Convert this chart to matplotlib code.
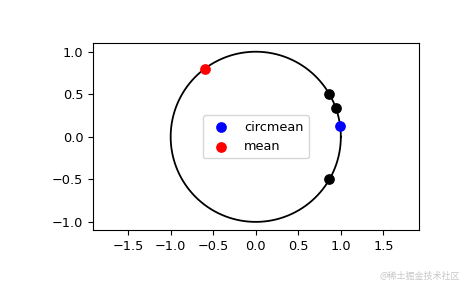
import numpy as np
import matplotlib.pyplot as plt

# sample angles in degrees
angles_deg = [20, 30, 330]
circmean_deg = 7.5
mean_deg = 126.67

angles = np.deg2rad(angles_deg)
t = np.linspace(0, 2 * np.pi, 400)

fig = plt.figure(figsize=(4.65, 2.88), dpi=100)
ax = fig.add_axes([0.2, 0.2, 0.7, 0.65])
ax.plot(np.cos(t), np.sin(t), color='k', lw=1.3)
ax.scatter(np.cos(angles), np.sin(angles), c='k', s=45, zorder=3)
ax.scatter(np.cos(np.deg2rad(circmean_deg)), np.sin(np.deg2rad(circmean_deg)),
           c='b', s=45, label='circmean', zorder=3)
ax.scatter(np.cos(np.deg2rad(mean_deg)), np.sin(np.deg2rad(mean_deg)),
           c='r', s=45, label='mean', zorder=3)
ax.axis('equal')
ax.set_ylim(-1.1, 1.1)
ax.set_xticks([-1.5, -1.0, -0.5, 0.0, 0.5, 1.0, 1.5])
ax.set_yticks([-1.0, -0.5, 0.0, 0.5, 1.0])
ax.tick_params(labelsize=9.3)
ax.legend(loc='center', fontsize=9.3)

fig.text(0.99, 0.025, '@稀土掘金技术社区', ha='right', va='bottom', fontsize=6.5,
         color='#c8c8c8', family=['Noto Sans CJK SC', 'DejaVu Sans'])

fig.savefig('out.png', dpi=100)
